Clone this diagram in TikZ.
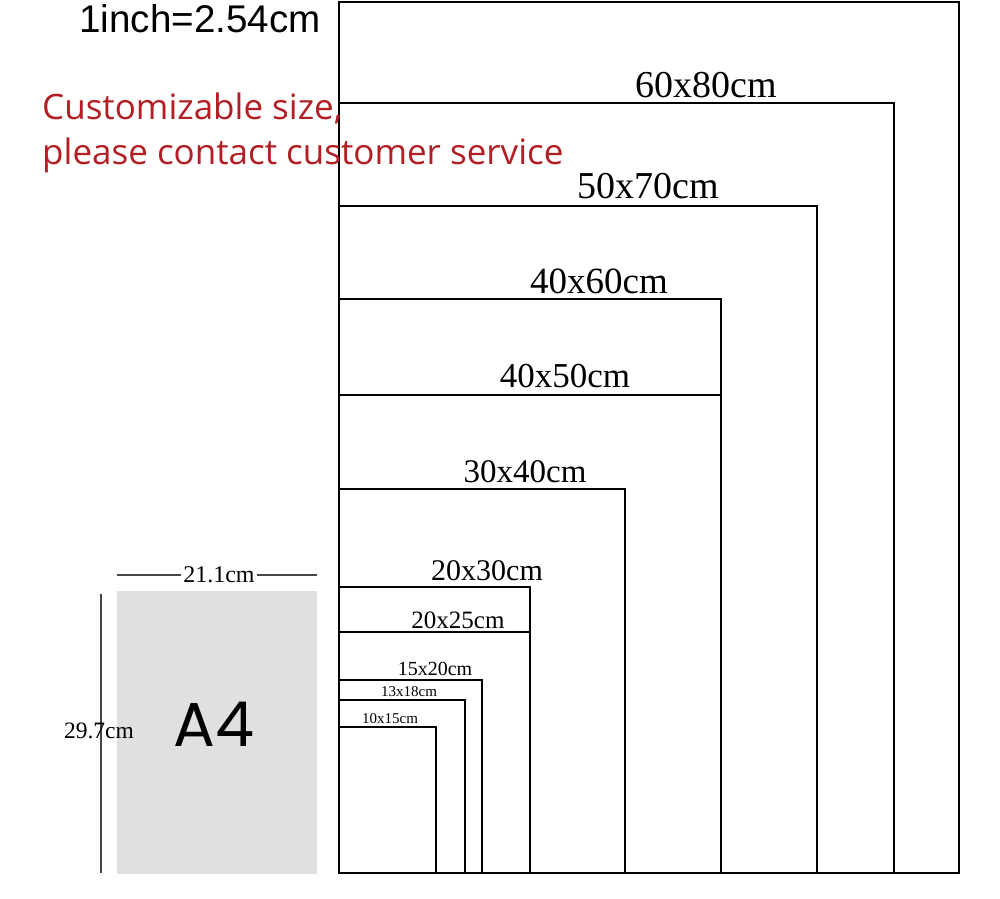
\documentclass[tikz,border=0pt]{standalone}
\usepackage{fontspec}
\setmainfont{Liberation Serif}
\newfontfamily\arialf{Liberation Sans}
\newfontfamily\redf{Open Sans}
\newfontfamily\afour{Poppins}
\definecolor{redtxt}{RGB}{178,30,36}
\definecolor{a4grey}{RGB}{224,224,224}
\definecolor{dimgrey}{RGB}{70,70,70}
\begin{document}
\begin{tikzpicture}[x=1pt,y=-1pt,
  frame/.style={draw=black,line width=2.2pt,line join=miter},
  sizelbl/.style={anchor=base,inner sep=0pt,text=black},
  dimline/.style={draw=dimgrey,line width=1.6pt}]
\useasboundingbox (0,0) rectangle (1000,898);
% frames (largest first)
\draw[frame] (339,873) rectangle (959,2);
\draw[frame] (339,873) rectangle (894,103);
\draw[frame] (339,873) rectangle (817,206);
\draw[frame] (339,873) rectangle (721,299);
\draw[frame] (339,873) -- (339,395) -- (721,395);
\draw[frame] (339,873) rectangle (625,489);
\draw[frame] (339,873) rectangle (530,587);
\draw[frame] (339,873) -- (339,632) -- (530,632);
\draw[frame] (339,873) rectangle (482,680);
\draw[frame] (339,873) rectangle (465,700);
\draw[frame] (339,873) rectangle (436,727);
% size labels
\node[sizelbl,font=\fontsize{38}{40}\selectfont] (l1) at (706,97) {60x80cm};
\node[sizelbl,font=\fontsize{38}{40}\selectfont] (l2) at (648,198) {50x70cm};
\node[sizelbl,font=\fontsize{37}{40}\selectfont] (l3) at (599,293) {40x60cm};
\node[sizelbl,font=\fontsize{35}{38}\selectfont] (l4) at (565,387) {40x50cm};
\node[sizelbl,font=\fontsize{33}{36}\selectfont] (l5) at (525,482) {30x40cm};
\node[sizelbl,font=\fontsize{30}{32}\selectfont] (l6) at (487,580) {20x30cm};
\node[sizelbl,font=\fontsize{25}{27}\selectfont] (l7) at (458,628) {20x25cm};
\node[sizelbl,font=\fontsize{20}{22}\selectfont] (l8) at (435,675) {15x20cm};
\node[sizelbl,font=\fontsize{15}{17}\selectfont] (l9) at (409,696) {13x18cm};
\node[sizelbl,font=\fontsize{15}{17}\selectfont] (l10) at (390,723) {10x15cm};
% header texts
\node[anchor=base,inner sep=0pt,font=\arialf\fontsize{38.6}{40}\selectfont] (inch) at (200,32) {1inch=2.54cm};
\node[anchor=base west,inner sep=0pt,text=redtxt,font=\redf\fontsize{35}{38}\selectfont] (red1) at (42,119) {Customizable size,};
\node[anchor=base west,inner sep=0pt,text=redtxt,font=\redf\fontsize{35}{38}\selectfont] (red2) at (42,164) {please contact customer service};
% A4 sheet
\fill[a4grey] (117,591) rectangle (317,874);
\node[inner sep=0pt,font=\afour\fontsize{62}{64}\selectfont] (a4) at (214,724) {A4};
% dimensions
\coordinate (hl) at (117,575);
\coordinate (hr) at (317,575);
\draw[dimline] (hl) -- (hr);
\node[anchor=base,fill=white,inner xsep=2pt,inner ysep=1pt,font=\fontsize{24}{26}\selectfont] (w) at (219,582) {21.1cm};
\coordinate (vt) at (101,594);
\coordinate (vb) at (101,873);
\draw[dimline] (vt) -- (vb);
\node[anchor=base,inner sep=0pt,font=\fontsize{23.5}{25}\selectfont] (h) at (99,738) {29.7cm};
\end{tikzpicture}
\end{document}
